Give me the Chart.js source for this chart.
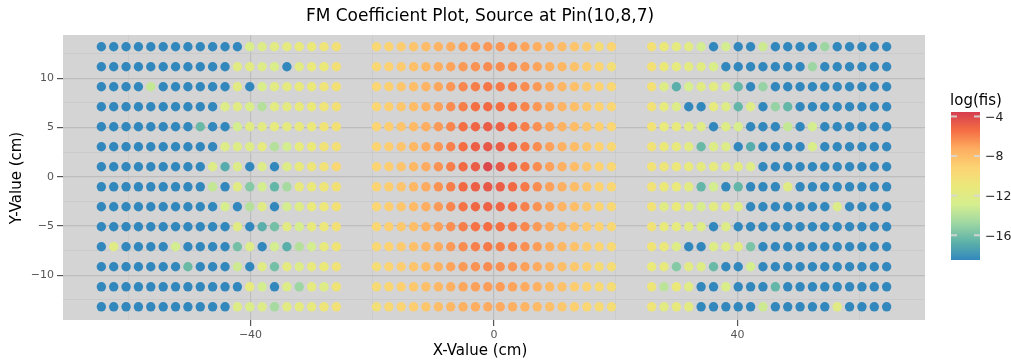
<!DOCTYPE html>
<html>
<head>
<meta charset="utf-8">
<script src="https://cdn.jsdelivr.net/npm/chart.js@4.4.1/dist/chart.umd.min.js"></script>
<style>
  html, body { margin: 0; padding: 0; background: #ffffff; }
  #wrap { width: 1011px; height: 364px; }
</style>
</head>
<body>
<div id="wrap"><canvas id="chart" width="1011" height="364"></canvas></div>
<script>
// Pin centre positions (cm) of the three assemblies, left to right
const xLeft = [-64.50, -62.47, -60.44, -58.41, -56.38, -54.34, -52.31, -50.28, -48.25, -46.22,
               -44.18, -42.15, -40.12, -38.09, -36.06, -34.02, -31.99, -29.96, -27.93, -25.90];
const xCenter = [-19.30, -17.27, -15.24, -13.21, -11.18, -9.14, -7.11, -5.08, -3.05, -1.02,
                 1.02, 3.05, 5.08, 7.11, 9.14, 11.18, 13.21, 15.24, 17.27, 19.30];
const xRight = [25.90, 27.93, 29.96, 31.99, 34.02, 36.06, 38.09, 40.12, 42.15, 44.18,
                46.22, 48.25, 50.28, 52.31, 54.34, 56.38, 58.41, 60.44, 62.47, 64.50];
// Pin rows (cm), top to bottom
const yRows = [13.21, 11.18, 9.14, 7.11, 5.08, 3.05, 1.02, -1.02, -3.05, -5.08, -7.11, -9.14, -11.18, -13.21];

// Tick positions
const xTicks = [-60, -40, -20, 0, 20, 40, 60];
const xMajor = [-40, 0, 40];
const yTicks = [-12.5, -10, -7.5, -5, -2.5, 0, 2.5, 5, 7.5, 10, 12.5];
const yMajor = [-10, -5, 0, 5, 10];
const barTicks = [-4, -8, -12, -16];

// Colour scale limits for log(fis)
const scaleMin = -18.5;
const scaleMax = -3.55;
const F = -18.5; // at or below the bottom of the colour scale

// log(fis) per pin, rows top to bottom, columns left to right
const logFisLeft = [
  [F, F, F, F, F, F, F, F, F, F, F, F, -12.5, -12.3, -11.8, -11.6, -11.3, -11.0, -10.7, -10.2],
  [F, F, F, F, F, F, F, F, F, F, F, -12.0, -11.8, -12.3, -12.5, F, -11.8, -11.2, -11.0, -10.3],
  [F, F, F, F, -13.5, F, F, F, F, F, F, -11.8, F, -12.5, -11.8, -11.6, -11.3, -11.0, -10.7, -10.3],
  [F, F, F, F, F, F, F, F, F, F, -12.3, -12.0, -12.5, -14.0, -11.8, -11.7, -11.3, -11.0, -10.7, -10.3],
  [F, F, F, F, F, F, F, F, -16.3, F, F, -13.0, -11.9, -11.8, -11.5, -11.6, -11.4, -11.1, -10.6, -10.3],
  [F, F, F, F, F, F, F, F, F, F, -12.3, -12.2, -12.3, -11.5, -14.0, -13.0, -11.5, -11.0, -10.5, -10.2],
  [F, F, F, F, F, F, F, F, F, -12.3, -17.0, -12.3, F, -12.3, F, -12.2, -11.3, -10.8, -10.5, -9.5],
  [F, F, F, F, F, F, F, F, F, -13.5, F, -12.0, -15.5, -13.0, -16.5, -14.5, -11.4, -11.1, -10.8, -10.3],
  [F, F, F, F, F, F, F, F, F, F, -12.8, F, -14.0, -12.0, F, -13.0, -12.2, -11.2, -10.9, -10.3],
  [F, F, F, F, F, F, F, F, F, F, F, -12.0, F, -16.8, -16.0, -11.8, -12.8, -11.3, -10.9, -10.3],
  [F, -12.0, F, F, F, F, -13.0, F, F, F, F, -16.0, -12.3, F, -13.0, -16.8, -14.0, -13.0, -11.4, -10.6],
  [F, F, F, F, F, F, F, -16.3, F, F, F, -13.2, F, -12.0, -16.0, -11.6, -12.3, -11.4, -11.0, -10.5],
  [F, F, F, F, F, F, F, F, F, F, F, F, -11.5, -13.0, F, -12.2, -14.8, -11.6, -12.2, -10.6],
  [F, F, F, F, F, F, F, F, F, F, F, -12.2, -12.5, -12.3, -14.5, -11.8, -11.6, -11.4, -10.8, -10.4]
];
const logFisCenter = [
  [-9.6, -9.2, -8.8, -8.4, -8.0, -7.6, -7.3, -7.0, -6.8, -6.6, -6.6, -6.8, -7.0, -7.3, -7.6, -8.0, -8.4, -8.8, -10.0, -9.3],
  [-9.6, -9.1, -8.7, -8.2, -7.8, -7.3, -7.0, -6.7, -6.5, -6.3, -6.3, -6.5, -6.7, -7.0, -7.4, -7.8, -8.3, -8.8, -9.3, -10.2],
  [-9.4, -9.0, -8.5, -8.1, -7.6, -7.1, -6.6, -6.2, -5.9, -5.7, -5.8, -6.0, -6.3, -6.7, -7.2, -7.7, -8.2, -8.7, -9.2, -9.5],
  [-9.4, -9.0, -8.5, -8.0, -7.5, -6.9, -6.3, -5.9, -5.5, -5.3, -5.4, -5.7, -6.1, -6.6, -7.1, -7.6, -8.1, -8.6, -9.1, -9.5],
  [-9.3, -8.9, -8.4, -7.9, -7.3, -6.7, -6.1, -5.5, -5.1, -4.8, -5.0, -5.4, -5.9, -6.4, -7.0, -7.5, -8.0, -8.5, -9.0, -9.4],
  [-9.3, -8.9, -8.4, -7.8, -7.2, -6.6, -6.0, -5.4, -4.9, -4.6, -4.8, -5.3, -5.8, -6.3, -6.9, -7.5, -8.0, -8.5, -9.1, -9.6],
  [-9.3, -8.9, -8.4, -7.8, -7.2, -6.5, -5.9, -5.3, -4.8, -4.0, -4.6, -5.2, -5.7, -6.3, -6.9, -7.4, -8.0, -8.5, -9.1, -9.5],
  [-9.3, -8.9, -8.4, -7.8, -7.2, -6.5, -5.9, -5.3, -4.9, -4.6, -4.8, -5.3, -5.8, -6.3, -6.9, -7.4, -8.0, -8.5, -9.1, -9.5],
  [-9.4, -8.9, -8.5, -7.9, -7.3, -6.7, -6.1, -5.6, -5.2, -5.0, -5.1, -5.5, -6.0, -6.5, -7.0, -7.6, -8.1, -8.6, -9.3, -9.6],
  [-9.5, -9.0, -8.6, -8.1, -7.5, -6.9, -6.4, -5.9, -5.6, -5.4, -5.5, -5.8, -6.2, -6.7, -7.2, -7.7, -8.2, -8.7, -9.2, -9.6],
  [-9.6, -9.1, -8.7, -8.2, -7.7, -7.2, -6.7, -6.3, -6.0, -5.8, -5.9, -6.1, -6.4, -6.8, -7.3, -7.8, -8.3, -8.8, -9.3, -9.7],
  [-10.0, -9.3, -8.9, -8.4, -8.0, -7.5, -7.0, -6.7, -6.5, -6.3, -6.4, -6.6, -6.9, -7.2, -7.6, -8.1, -8.6, -9.0, -9.9, -10.0],
  [-9.8, -9.4, -9.0, -8.6, -8.2, -7.8, -7.4, -7.1, -6.9, -6.8, -6.8, -7.0, -7.2, -7.5, -7.9, -8.3, -8.8, -9.2, -9.7, -10.0],
  [-10.2, -9.6, -9.3, -8.9, -8.5, -8.1, -7.8, -7.5, -7.3, -7.2, -7.2, -7.4, -7.6, -7.9, -8.2, -8.6, -9.0, -9.4, -9.8, -10.0]
];
const logFisRight = [
  [-10.3, -11.0, -11.6, -11.8, -13.0, F, -13.0, F, F, -13.2, F, F, F, F, -14.8, F, F, F, F, F],
  [-10.3, -11.0, -11.5, -11.7, -11.9, -12.5, F, F, F, F, F, F, F, -14.8, F, F, F, F, F, F],
  [-10.3, -12.2, -16.8, -12.8, -11.9, -11.8, -12.3, -16.5, F, -15.0, F, F, F, F, F, F, F, F, F, F],
  [-10.4, -11.5, -12.3, F, F, -11.5, -12.2, -16.5, -12.3, F, -15.0, -16.5, F, F, F, F, F, F, F, F],
  [-10.5, -11.2, -11.4, -11.8, -12.1, F, -12.2, -12.7, F, F, F, -13.5, F, -13.0, F, F, F, F, F, F],
  [-10.5, -11.0, -11.3, -11.8, -16.3, -12.2, -12.3, F, -17.0, F, F, F, F, -12.5, F, F, F, F, F, F],
  [-10.5, -10.8, -10.9, -11.4, -11.6, -11.6, -11.8, -11.7, -12.3, F, F, F, F, F, F, F, F, F, F, F],
  [-10.5, -11.0, -11.2, -11.8, -16.5, -13.0, F, -16.5, F, F, F, -12.0, F, F, F, F, F, F, F, F],
  [-10.5, -12.0, -11.2, -11.8, -12.7, -11.8, -11.6, -12.2, F, F, F, F, F, F, F, -12.4, F, F, F, F],
  [-10.5, -11.3, -11.5, -11.8, -12.2, F, -12.2, F, F, F, F, F, F, F, F, F, F, F, F, F],
  [-10.6, -11.1, -12.2, F, F, -12.2, -12.1, -11.8, -15.8, F, F, F, F, F, F, F, F, F, F, F],
  [-11.2, -11.4, -15.5, -11.8, -12.2, -16.3, F, F, -13.0, F, F, F, F, F, F, F, F, F, F, F],
  [-10.8, -13.8, -11.0, -12.0, F, F, -12.5, F, F, F, -16.5, F, F, F, F, F, F, F, F, F],
  [-10.7, -11.8, -11.3, -11.7, F, F, F, F, F, -13.2, F, F, F, F, F, -12.0, F, F, F, F]
];

// Spectral-style palette, from the low end of the scale to the high end
const palette = ['#3288bd', '#5fb3a8', '#9fd7a3', '#d6ee8f', '#ebe87a', '#fcd373', '#fdae61', '#f46d43', '#d53e4f'];

function hexToRgb(h) {
  return [parseInt(h.slice(1, 3), 16), parseInt(h.slice(3, 5), 16), parseInt(h.slice(5, 7), 16)];
}
const paletteRgb = palette.map(hexToRgb);

function colorAt(t) {
  t = Math.max(0, Math.min(1, t));
  const pos = t * (paletteRgb.length - 1);
  const i = Math.min(paletteRgb.length - 2, Math.floor(pos));
  const f = pos - i;
  const a = paletteRgb[i], b = paletteRgb[i + 1];
  const c = a.map((v, k) => Math.round(v + (b[k] - v) * f));
  return 'rgb(' + c.join(',') + ')';
}
function colorFor(v) {
  return colorAt((v - scaleMin) / (scaleMax - scaleMin));
}

// Assemble scatter points from the blocks
const points = [];
const pointColors = [];
[[xLeft, logFisLeft], [xCenter, logFisCenter], [xRight, logFisRight]].forEach(([xs, block]) => {
  block.forEach((row, r) => {
    row.forEach((v, c) => {
      points.push({ x: xs[c], y: yRows[r], v: v });
      pointColors.push(colorFor(v));
    });
  });
});

const FONT = "'DejaVu Sans', sans-serif";
const minus = (n) => String(n).replace('-', '\u2212');

const decorations = {
  id: 'decorations',
  beforeDraw(chart) {
    const { ctx, chartArea: a } = chart;
    ctx.save();
    ctx.fillStyle = '#d4d4d4';
    ctx.fillRect(a.left, a.top, a.right - a.left, a.bottom - a.top);
    ctx.restore();
  },
  afterDraw(chart) {
    const { ctx } = chart;
    ctx.save();
    // title
    ctx.fillStyle = '#000000';
    ctx.textAlign = 'center';
    ctx.textBaseline = 'middle';
    ctx.font = '17px ' + FONT;
    ctx.fillText('FM Coefficient Plot, Source at Pin(10,8,7)', 480, 17);
    // axis titles
    ctx.font = '15px ' + FONT;
    ctx.fillText('X-Value (cm)', 480, 351);
    ctx.save();
    ctx.translate(17, 178);
    ctx.rotate(-Math.PI / 2);
    ctx.fillText('Y-Value (cm)', 0, 0);
    ctx.restore();

    // colour bar
    const bx = 951, bw = 29, by = 112, bh = 148;
    const grad = ctx.createLinearGradient(0, by + bh, 0, by);
    for (let i = 0; i <= 40; i++) grad.addColorStop(i / 40, colorAt(i / 40));
    ctx.fillStyle = grad;
    ctx.fillRect(bx, by, bw, bh);
    ctx.font = '15px ' + FONT;
    ctx.fillStyle = '#000000';
    ctx.fillText('log(fis)', 976, 101);
    ctx.textAlign = 'left';
    ctx.font = '12.5px ' + FONT;
    barTicks.forEach((t) => {
      const y = by + (scaleMax - t) / (scaleMax - scaleMin) * bh;
      ctx.fillStyle = 'rgba(215,215,215,0.9)';
      ctx.fillRect(bx, y - 1, 6, 2);
      ctx.fillRect(bx + bw - 6, y - 1, 6, 2);
      ctx.fillStyle = '#222222';
      ctx.fillText(minus(t), bx + bw + 5, y + 1);
    });
    ctx.restore();
  }
};

new Chart(document.getElementById('chart'), {
  type: 'scatter',
  data: {
    datasets: [{
      data: points,
      pointRadius: 4.7,
      pointBorderWidth: 0,
      pointBackgroundColor: pointColors,
      pointBorderColor: pointColors
    }]
  },
  options: {
    responsive: false,
    animation: false,
    events: [],
    layout: { padding: { left: 0, top: 35, right: 86, bottom: 0 } },
    plugins: { legend: { display: false }, tooltip: { enabled: false }, title: { display: false } },
    scales: {
      x: {
        type: 'linear',
        min: -70.8,
        max: 70.8,
        afterFit(s) { s.height = 44; },
        afterBuildTicks(s) { s.ticks = xTicks.map((v) => ({ value: v })); },
        border: { display: false },
        grid: {
          color: (c) => xMajor.includes(c.tick && c.tick.value) ? '#bdbdbd' : '#c9c9c9',
          lineWidth: (c) => xMajor.includes(c.tick && c.tick.value) ? 1.2 : 0.8,
          tickColor: (c) => xMajor.includes(c.tick && c.tick.value) ? '#555555' : 'rgba(0,0,0,0)',
          tickLength: 6,
          drawTicks: true
        },
        ticks: {
          color: '#555555',
          padding: 3,
          font: { family: FONT, size: 11 },
          maxRotation: 0,
          autoSkip: false,
          callback: (v) => xMajor.includes(v) ? minus(v) : ''
        }
      },
      y: {
        type: 'linear',
        min: -14.55,
        max: 14.4,
        afterFit(s) { s.width = 63; },
        afterBuildTicks(s) { s.ticks = yTicks.map((v) => ({ value: v })); },
        border: { display: false },
        grid: {
          color: (c) => yMajor.includes(c.tick && c.tick.value) ? '#bdbdbd' : '#c9c9c9',
          lineWidth: (c) => yMajor.includes(c.tick && c.tick.value) ? 1.2 : 0.8,
          tickColor: (c) => yMajor.includes(c.tick && c.tick.value) ? '#555555' : 'rgba(0,0,0,0)',
          tickLength: 6,
          drawTicks: true
        },
        ticks: {
          color: '#555555',
          padding: 3,
          font: { family: FONT, size: 11 },
          autoSkip: false,
          callback: (v) => yMajor.includes(v) ? minus(v) : ''
        }
      }
    }
  },
  plugins: [decorations]
});
</script>
</body>
</html>
